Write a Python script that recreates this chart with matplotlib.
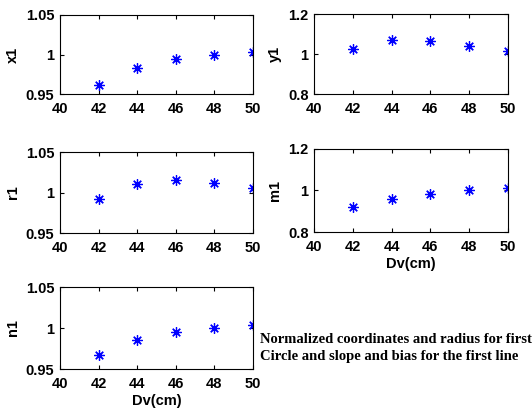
import matplotlib.pyplot as plt

dv = [42, 44, 46, 48, 50]
x1 = [0.962, 0.983, 0.994, 1.000, 1.003]
y1 = [1.025, 1.068, 1.063, 1.040, 1.013]
r1 = [0.992, 1.011, 1.015, 1.012, 1.005]
m1 = [0.921, 0.961, 0.984, 1.000, 1.010]
n1 = [0.9675, 0.985, 0.995, 1.000, 1.0037]

panels = [
    ("x1", x1, (0.95, 1.05), [0.95, 1, 1.05], ["0.95", "1", "1.05"], False),
    ("y1", y1, (0.8, 1.2), [0.8, 1, 1.2], ["0.8", "1", "1.2"], False),
    ("r1", r1, (0.95, 1.05), [0.95, 1, 1.05], ["0.95", "1", "1.05"], False),
    ("m1", m1, (0.8, 1.2), [0.8, 1, 1.2], ["0.8", "1", "1.2"], True),
    ("n1", n1, (0.95, 1.05), [0.95, 1, 1.05], ["0.95", "1", "1.05"], True),
]

W, H = 532, 411
# axes boxes in pixels: left, top, right, bottom
boxes = [
    (60, 15, 253, 94),
    (314, 14, 508, 94),
    (60, 152, 253, 233),
    (314, 149, 508, 232),
    (60, 287, 253, 369),
]

plt.rcParams["font.family"] = "Liberation Sans"
plt.rcParams["font.weight"] = "bold"

fig = plt.figure(figsize=(W / 100, H / 100), dpi=100)

for (name, vals, ylim, yt, ytl, show_x), (l, t, r, b) in zip(panels, boxes):
    ax = fig.add_axes([l / W, 1 - b / H, (r - l) / W, (b - t) / H])
    ax.plot(dv, vals, linestyle="none", marker=(8, 2, 0), markersize=7.5,
            markeredgewidth=0.9, color="blue")
    ax.set_xlim(40, 50)
    ax.set_ylim(*ylim)
    ax.set_xticks([40, 42, 44, 46, 48, 50])
    ax.set_yticks(yt)
    ax.set_yticklabels(ytl)
    ax.tick_params(direction="in", length=3, top=True, right=True,
                   labelsize=10.5, pad=4)
    ax.tick_params(axis="x", pad=6)
    for lab in ax.get_xticklabels() + ax.get_yticklabels():
        lab.set_fontweight("bold")
    ax.set_ylabel(name, fontsize=10.5, fontweight="bold", labelpad=4)
    if show_x:
        ax.set_xlabel("Dv(cm)", fontsize=10.5, fontweight="bold", labelpad=2)
    for s in ax.spines.values():
        s.set_linewidth(0.8)

fig.text(260 / W, 1 - 348 / H,
         "Normalized coordinates and radius for first\nCircle and slope and bias for the first line",
         family="Liberation Serif", fontsize=10.5, fontweight="bold",
         ha="left", va="center", linespacing=1.35)

fig.savefig("out.png", dpi=100, facecolor="white")
